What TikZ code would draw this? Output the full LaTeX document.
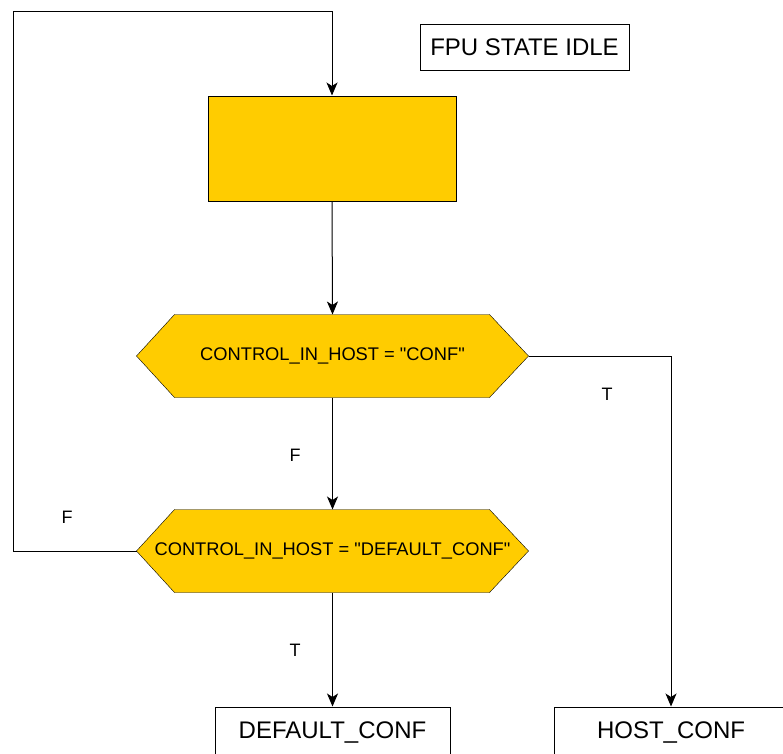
\documentclass[tikz,border=0pt]{standalone}
\usepackage{fontspec}
\setmainfont{Liberation Sans}[Ligatures=TeXOff]
\usetikzlibrary{arrows.meta,backgrounds}
\definecolor{amber}{RGB}{255,204,0}
\begin{document}
\begin{tikzpicture}[x=1pt,y=-1pt,
  line width=1pt,
  flow/.style={-{Stealth[length=13pt,width=11pt,inset=3.5pt]}},
  statebox/.style={draw, inner sep=0pt, minimum width=#1, font=\fontsize{24}{28}\selectfont},
  testbox/.style={inner sep=0pt, minimum width=391pt, minimum height=82pt, font=\fontsize{18.3}{22}\selectfont},
  tag/.style={inner sep=0pt, font=\fontsize{18}{22}\selectfont}
]
\useasboundingbox (0,0) rectangle (783,753);
\clip (0,0) rectangle (783,753);

% title and process block
\node[statebox=209pt, minimum height=46pt] (title) at (524.5,47) {FPU STATE IDLE};
\node[draw, fill=amber, inner sep=0pt, minimum width=248pt, minimum height=105pt] (proc) at (332,148.5) {};

% decisions
\node[testbox] (h1) at (332.5,356) {CONTROL\_IN\_HOST = "CONF"};
\node[testbox] (h2) at (332.5,551) {CONTROL\_IN\_HOST = "DEFAULT\_CONF"};
\begin{scope}[on background layer]
  \foreach \h in {h1,h2}
    \draw[fill=amber] (\h.west) -- ([xshift=38pt]\h.north west) -- ([xshift=-39pt]\h.north east)
      -- (\h.east) -- ([xshift=-39pt]\h.south east) -- ([xshift=38pt]\h.south west) -- cycle;
\end{scope}

% end states
\node[statebox=235pt, minimum height=50pt] (dflt) at (332.5,732) {DEFAULT\_CONF};
\node[statebox=234pt, minimum height=50pt] (host) at (671,732) {HOST\_CONF};

% loop-back corner
\coordinate (loop) at (13,11);

% connectors
\draw[flow] (h2.west) -| (loop) -| (proc.north);
\draw[flow] (proc.south) -- (h1.north);
\draw[flow] (h1.south) -- (h2.north);
\draw[flow] (h2.south) -- (dflt.north);
\draw[flow] (h1.east) -| (host.north);

% branch labels
\node[tag] (t1) at (607,394) {T};
\node[tag] (f1) at (295,455) {F};
\node[tag] (f2) at (67,517) {F};
\node[tag] (t2) at (295,650) {T};
\end{tikzpicture}
\end{document}
